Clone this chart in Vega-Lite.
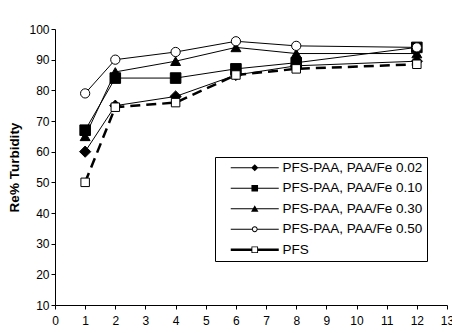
{
  "$schema": "https://vega.github.io/schema/vega-lite/v6.json",
  "width": 392,
  "height": 276,
  "autosize": {"type": "none"},
  "padding": {"left": 55, "top": 29, "right": 5, "bottom": 28},
  "background": "white",
  "config": {
    "view": {"stroke": null},
    "axis": {
      "grid": false,
      "domainColor": "black",
      "tickColor": "black",
      "labelColor": "black",
      "titleColor": "black",
      "tickSize": 4,
      "labelFont": "Liberation Sans",
      "labelFontSize": 12,
      "titleFont": "Liberation Sans"
    }
  },
  "data": {
    "values": [
      {"dose": 1, "re": 60, "series": "PFS-PAA, PAA/Fe 0.02"},
      {"dose": 2, "re": 75, "series": "PFS-PAA, PAA/Fe 0.02"},
      {"dose": 4, "re": 78, "series": "PFS-PAA, PAA/Fe 0.02"},
      {"dose": 6, "re": 85, "series": "PFS-PAA, PAA/Fe 0.02"},
      {"dose": 8, "re": 88, "series": "PFS-PAA, PAA/Fe 0.02"},
      {"dose": 12, "re": 89.5, "series": "PFS-PAA, PAA/Fe 0.02"},
      {"dose": 1, "re": 67, "series": "PFS-PAA, PAA/Fe 0.10"},
      {"dose": 2, "re": 84, "series": "PFS-PAA, PAA/Fe 0.10"},
      {"dose": 4, "re": 84, "series": "PFS-PAA, PAA/Fe 0.10"},
      {"dose": 6, "re": 87, "series": "PFS-PAA, PAA/Fe 0.10"},
      {"dose": 8, "re": 89, "series": "PFS-PAA, PAA/Fe 0.10"},
      {"dose": 12, "re": 94, "series": "PFS-PAA, PAA/Fe 0.10"},
      {"dose": 1, "re": 65, "series": "PFS-PAA, PAA/Fe 0.30"},
      {"dose": 2, "re": 86, "series": "PFS-PAA, PAA/Fe 0.30"},
      {"dose": 4, "re": 89.5, "series": "PFS-PAA, PAA/Fe 0.30"},
      {"dose": 6, "re": 94, "series": "PFS-PAA, PAA/Fe 0.30"},
      {"dose": 8, "re": 92, "series": "PFS-PAA, PAA/Fe 0.30"},
      {"dose": 12, "re": 92, "series": "PFS-PAA, PAA/Fe 0.30"},
      {"dose": 1, "re": 79, "series": "PFS-PAA, PAA/Fe 0.50"},
      {"dose": 2, "re": 90, "series": "PFS-PAA, PAA/Fe 0.50"},
      {"dose": 4, "re": 92.5, "series": "PFS-PAA, PAA/Fe 0.50"},
      {"dose": 6, "re": 96, "series": "PFS-PAA, PAA/Fe 0.50"},
      {"dose": 8, "re": 94.5, "series": "PFS-PAA, PAA/Fe 0.50"},
      {"dose": 12, "re": 94, "series": "PFS-PAA, PAA/Fe 0.50"},
      {"dose": 1, "re": 50, "series": "PFS"},
      {"dose": 2, "re": 74.5, "series": "PFS"},
      {"dose": 4, "re": 76, "series": "PFS"},
      {"dose": 6, "re": 85, "series": "PFS"},
      {"dose": 8, "re": 87, "series": "PFS"},
      {"dose": 12, "re": 88.5, "series": "PFS"}
    ]
  },
  "encoding": {
    "x": {
      "field": "dose",
      "type": "quantitative",
      "scale": {"domain": [0, 13], "nice": false},
      "axis": {"title": null, "values": [0,1,2,3,4,5,6,7,8,9,10,11,12,13], "labelPadding": 6, "labelFlush": false}
    },
    "y": {
      "field": "re",
      "type": "quantitative",
      "scale": {"domain": [10, 100], "nice": false, "zero": false},
      "axis": {"title": "Re% Turbidity", "values": [10,20,30,40,50,60,70,80,90,100], "labelPadding": 2, "titleFontWeight": "bold", "titleFontSize": 13.5, "titlePadding": 7, "labelFlush": false}
    }
  },
  "layer": [
    {
      "transform": [{"filter": "datum.series != 'PFS'"}],
      "mark": {"type": "line", "color": "black", "strokeWidth": 1},
      "encoding": {"detail": {"field": "series", "type": "nominal"}}
    },
    {
      "transform": [{"filter": "datum.series == 'PFS'"}],
      "mark": {"type": "line", "color": "black", "strokeWidth": 2.5, "strokeDash": [10, 6]},
      "encoding": {}
    },
    {
      "mark": {"type": "point", "stroke": "black", "strokeWidth": 1, "opacity": 1, "filled": false},
      "encoding": {
        "shape": {
          "field": "series", "type": "nominal",
          "scale": {"domain": ["PFS-PAA, PAA/Fe 0.02", "PFS-PAA, PAA/Fe 0.10", "PFS-PAA, PAA/Fe 0.30", "PFS-PAA, PAA/Fe 0.50", "PFS"],
                    "range": ["diamond", "square", "triangle-up", "circle", "square"]},
          "legend": null
        },
        "fill": {
          "field": "series", "type": "nominal",
          "scale": {"domain": ["PFS-PAA, PAA/Fe 0.02", "PFS-PAA, PAA/Fe 0.10", "PFS-PAA, PAA/Fe 0.30", "PFS-PAA, PAA/Fe 0.50", "PFS"],
                    "range": ["black", "black", "black", "white", "white"]},
          "legend": null
        },
        "size": {
          "field": "series", "type": "nominal",
          "scale": {"domain": ["PFS-PAA, PAA/Fe 0.02", "PFS-PAA, PAA/Fe 0.10", "PFS-PAA, PAA/Fe 0.30", "PFS-PAA, PAA/Fe 0.50", "PFS"],
                    "range": [125, 72, 100, 110, 110]},
          "legend": null
        }
      }
    },
    {
      "mark": {"type": "point", "filled": true, "color": "black", "opacity": 0},
      "encoding": {
        "shape": {
          "field": "series", "type": "nominal",
          "scale": {"domain": ["PFS-PAA, PAA/Fe 0.02", "PFS-PAA, PAA/Fe 0.10", "PFS-PAA, PAA/Fe 0.30", "PFS-PAA, PAA/Fe 0.50", "PFS"],
                    "range": [
                      "M-4,-0.09H4V0.09H-4ZM0,-0.6L0.6,0L0,0.6L-0.6,0Z",
                      "M-4,-0.09H4V0.09H-4ZM-0.55,-0.55H0.55V0.55H-0.55Z",
                      "M-4,-0.09H4V0.09H-4ZM0,-0.6L0.62,0.5H-0.62Z",
                      "M-4,-0.09H-0.4V0.09H-4ZM0.4,-0.09H4V0.09H0.4ZM0.48,0A0.48,0.48 0 1,1 -0.48,0A0.48,0.48 0 1,1 0.48,0ZM0.32,0A0.32,0.32 0 1,0 -0.32,0A0.32,0.32 0 1,0 0.32,0Z",
                      "M-4,-0.22H-0.5V0.22H-4ZM0.5,-0.22H4V0.22H0.5ZM-0.55,-0.55H0.55V0.55H-0.55ZM-0.4,-0.4V0.4H0.4V-0.4Z"
                    ]},
          "legend": {
            "title": null,
            "orient": "none",
            "legendX": 160,
            "legendY": 128,
            "padding": 4,
            "strokeColor": "black",
            "symbolSize": 144,
            "symbolOffset": 29,
            "symbolStrokeWidth": 0,
            "symbolStrokeColor": "black",
            "symbolFillColor": "black",
            "symbolOpacity": 1,
            "labelFont": "Liberation Sans",
            "labelFontSize": 13.5,
            "labelColor": "black",
            "labelOffset": 21,
            "rowPadding": 5.5,
            "labelLimit": 300
          }
        }
      }
    }
  ],
  "resolve": {"scale": {"shape": "independent"}}
}
